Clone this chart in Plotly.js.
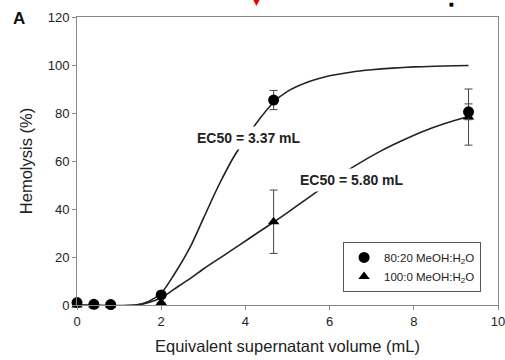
<!DOCTYPE html>
<html>
<head>
<meta charset="utf-8">
<script src="https://cdn.plot.ly/plotly-3.0.1.min.js"></script>
<style>html,body{margin:0;padding:0;background:#fff;}#chart{width:505px;height:360px;}</style>
</head>
<body>
<div id="chart"></div>
<script>
// Measured points
const circleX = [0, 0.4, 0.8, 2.0, 4.67, 9.3];
const circleY = [1, 0.3, 0.2, 4.2, 85.4, 80.5];
const circleErr = [0, 0, 0, 1.2, 4.0, 3.3];

const triX = [0, 0.4, 0.8, 2.0, 4.67, 9.3];
const triY = [0, 0, 0, 1.0, 34.7, 78.3];
const triErr = [0, 0, 0, 0, 13.2, 11.7];

// Fitted curves
const fit1X = [0, 1.4, 1.7, 2.0, 2.3, 2.7, 3.0, 3.37, 3.75, 4.25, 4.67, 5.0, 5.5, 6.0, 6.5, 7.0, 7.5, 8.0, 8.5, 9.0, 9.3];
const fit1Y = [0, 0, 1.5, 5, 12.5, 24.5, 36, 50, 62.5, 75.5, 84.5, 89, 93, 95.5, 97, 98, 98.7, 99.2, 99.5, 99.7, 99.8];

const fit2X = [0, 1.4, 1.7, 2.0, 2.3, 2.7, 3.0, 3.5, 3.9, 4.3, 4.67, 5.0, 5.4, 5.8, 6.2, 6.7, 7.2, 7.7, 8.2, 8.7, 9.3];
const fit2Y = [0, 0, 1, 3, 6.5, 11.2, 15, 20.8, 25.5, 30.2, 34.5, 38.5, 43.5, 48.5, 53.5, 59, 64, 68.3, 72.2, 75.4, 78.5];

const xTicks = [0, 2, 4, 6, 8, 10];
const yTicks = [0, 20, 40, 60, 80, 100, 120];

const legendNames = ['80:20 MeOH:H<sub>2</sub>O', '100:0 MeOH:H<sub>2</sub>O'];
const ec50Labels = ['<b>EC50 = 3.37 mL</b>', '<b>EC50 = 5.80 mL</b>'];

const FONT = 'Arial, "Liberation Sans", sans-serif';

const traces = [
  {x: fit1X, y: fit1Y, mode: 'lines', line: {color: '#222', width: 1.6, shape: 'spline', smoothing: 0.8}, showlegend: false, hoverinfo: 'skip', cliponaxis: false},
  {x: fit2X, y: fit2Y, mode: 'lines', line: {color: '#222', width: 1.6, shape: 'spline', smoothing: 0.8}, showlegend: false, hoverinfo: 'skip', cliponaxis: false},
  {x: triX, y: triY, mode: 'markers', name: legendNames[1],
   marker: {symbol: 'triangle-up', size: 10, color: '#000'},
   error_y: {type: 'data', array: triErr, visible: true, color: '#444', thickness: 1, width: 4},
   cliponaxis: false},
  {x: circleX, y: circleY, mode: 'markers', name: legendNames[0],
   marker: {symbol: 'circle', size: 11, color: '#000'},
   error_y: {type: 'data', array: circleErr, visible: true, color: '#444', thickness: 1, width: 4},
   cliponaxis: false}
];

const layout = {
  width: 505, height: 360,
  margin: {l: 77, r: 7, t: 17, b: 55},
  paper_bgcolor: '#fff', plot_bgcolor: '#fff',
  font: {family: FONT, size: 13, color: '#222'},
  showlegend: true,
  legend: {
    x: 0.632, y: 0.219, xanchor: 'left', yanchor: 'top',
    bordercolor: '#555', borderwidth: 1, bgcolor: '#fff',
    font: {family: FONT, size: 11.5, color: '#222'},
    traceorder: 'reversed',
    itemwidth: 30, tracegroupgap: 0
  },
  xaxis: {
    range: [0, 10], tickvals: xTicks, ticktext: xTicks.map(String),
    showgrid: false, zeroline: false,
    showline: true, linecolor: '#888', linewidth: 1, mirror: true,
    ticks: 'outside', ticklen: 4, tickcolor: '#888',
    ticklabeloverflow: 'allow',
    tickfont: {family: FONT, size: 13, color: '#222'},
    title: {text: 'Equivalent supernatant volume (mL)', font: {family: FONT, size: 16.5, color: '#222'}, standoff: 12}
  },
  yaxis: {
    range: [0, 120], tickvals: yTicks, ticktext: yTicks.map(String),
    showgrid: false, zeroline: false,
    showline: true, linecolor: '#888', linewidth: 1, mirror: true,
    ticks: 'outside', ticklen: 4, tickcolor: '#888',
    ticklabeloverflow: 'allow',
    tickfont: {family: FONT, size: 13, color: '#222'},
    title: {text: 'Hemolysis (%)', font: {family: FONT, size: 16.5, color: '#222'}, standoff: 10}
  },
  annotations: [
    {x: 4.09, y: 69.6, xref: 'x', yref: 'y', text: ec50Labels[0], showarrow: false,
     font: {family: FONT, size: 14, color: '#222'}, bgcolor: '#fff', borderpad: 3},
    {x: 6.53, y: 52, xref: 'x', yref: 'y', text: ec50Labels[1], showarrow: false,
     font: {family: FONT, size: 14, color: '#222'}, bgcolor: '#fff', borderpad: 3},
    {x: 19, y: 19, text: '<b>A</b>', showarrow: false,
     font: {family: FONT, size: 17, color: '#111'}},
    {x: 256, y: 2, text: '▼', showarrow: false, font: {family: '"DejaVu Sans"', size: 9, color: '#e00'}},
    {x: 451, y: 4, text: '■', showarrow: false, font: {family: '"DejaVu Sans"', size: 5, color: '#000'}}
  ]
};
// convert pixel-positioned decorations to paper coords
const pw = 505 - 77 - 7, ph = 360 - 17 - 55;
layout.annotations.slice(2).forEach(a => {
  a.xref = 'paper'; a.yref = 'paper';
  a.xanchor = 'center'; a.yanchor = 'middle';
  a.x = (a.x - 77) / pw; a.y = (360 - 55 - a.y) / ph;
});

Plotly.newPlot('chart', traces, layout, {displayModeBar: false, staticPlot: true});
</script>
</body>
</html>
